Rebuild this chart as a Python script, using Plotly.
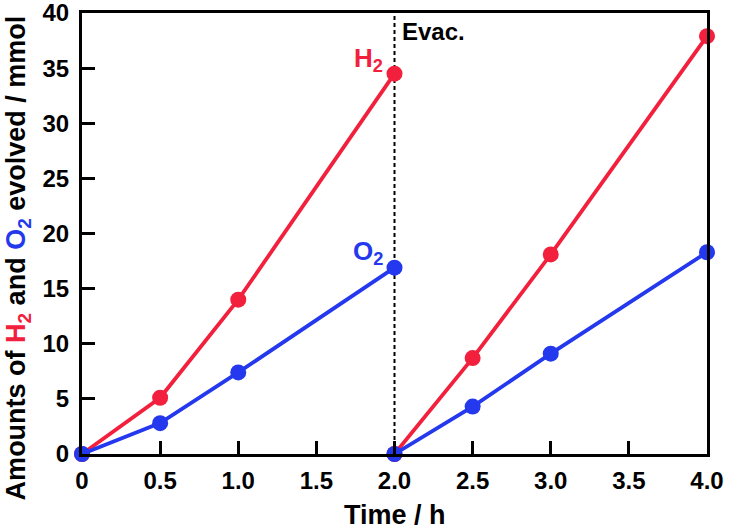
import plotly.graph_objects as go

# Data
t_run1 = [0, 0.5, 1.0, 2.0]
h2_run1 = [0, 5.1, 14.0, 34.5]
o2_run1 = [0, 2.8, 7.4, 16.9]
t_run2 = [2.0, 2.5, 3.0, 4.0]
h2_run2 = [0, 8.7, 18.1, 37.9]
o2_run2 = [0, 4.3, 9.1, 18.3]
x_ticks = [0, 0.5, 1.0, 1.5, 2.0, 2.5, 3.0, 3.5, 4.0]
x_ticklabels = ["0", "0.5", "1.0", "1.5", "2.0", "2.5", "3.0", "3.5", "4.0"]
y_ticks = [0, 5, 10, 15, 20, 25, 30, 35, 40]
evac_time = 2.0

RED = "#F2203C"
BLUE = "#2438EE"
FONT = "Liberation Sans, Arial, sans-serif"

fig = go.Figure()

# evacuation line
fig.add_trace(go.Scatter(x=[evac_time, evac_time], y=[0, 40], mode="lines",
                         line=dict(color="black", width=2, dash="4px,3px"),
                         showlegend=False, hoverinfo="skip"))

for tx, ys, col in [(t_run1, h2_run1, RED), (t_run2, h2_run2, RED),
                    (t_run1, o2_run1, BLUE), (t_run2, o2_run2, BLUE)]:
    fig.add_trace(go.Scatter(x=tx, y=ys, mode="lines+markers",
                             line=dict(color=col, width=3.8),
                             marker=dict(color=col, size=16),
                             showlegend=False, cliponaxis=False))

fig.update_layout(
    width=729, height=530,
    margin=dict(l=82, r=22, t=13, b=76),
    paper_bgcolor="white", plot_bgcolor="white",
    font=dict(family=FONT, size=24, color="black", weight="bold"),
    xaxis=dict(range=[0, 4], tickvals=x_ticks, ticktext=x_ticklabels,
               ticks="inside", ticklen=13, tickwidth=2.5, tickcolor="black",
               showline=True, linewidth=3, linecolor="black", mirror=True,
               showgrid=False, zeroline=False, ticklabelstandoff=3,
               automargin=False, ticklabeloverflow="allow",
               tickfont=dict(size=24, family=FONT, weight="bold")),
    yaxis=dict(range=[0, 40], tickvals=y_ticks,
               ticks="inside", ticklen=13, tickwidth=2.5, tickcolor="black",
               showline=True, linewidth=3, linecolor="black", mirror=True,
               showgrid=False, zeroline=False, ticklabelstandoff=5,
               automargin=False, ticklabeloverflow="allow",
               tickfont=dict(size=24, family=FONT, weight="bold")),
)

ytitle = ("Amounts of <span style='color:%s'>H<sub>2</sub></span> and "
          "<span style='color:%s'>O<sub>2</sub></span> evolved / mmol" % (RED, BLUE))
fig.add_annotation(xref="paper", yref="paper", x=-0.103, y=0.445,
                   text=ytitle, textangle=-90, showarrow=False,
                   xanchor="center", yanchor="middle",
                   font=dict(size=27, family=FONT, weight="bold"))
fig.add_annotation(xref="paper", yref="paper", x=0.5, y=-0.138,
                   text="Time / h", showarrow=False,
                   xanchor="center", yanchor="middle",
                   font=dict(size=27, family=FONT, weight="bold"))
fig.add_annotation(xref="x", yref="y", x=evac_time, y=h2_run1[-1],
                   text="H<sub>2</sub>", showarrow=False,
                   xanchor="right", yanchor="middle", xshift=-10, yshift=14,
                   font=dict(size=26, color=RED, family=FONT, weight="bold"))
fig.add_annotation(xref="x", yref="y", x=evac_time, y=o2_run1[-1],
                   text="O<sub>2</sub>", showarrow=False,
                   xanchor="right", yanchor="middle", xshift=-10, yshift=15,
                   font=dict(size=26, color=BLUE, family=FONT, weight="bold"))
fig.add_annotation(xref="x", yref="y", x=evac_time, y=40,
                   text="Evac.", showarrow=False,
                   xanchor="left", yanchor="top", xshift=5, yshift=-3,
                   font=dict(size=24, color="black", family=FONT, weight="bold"))

fig.write_html("out.html", config={"displayModeBar": False},
               post_script="document.body.style.margin='0';")
